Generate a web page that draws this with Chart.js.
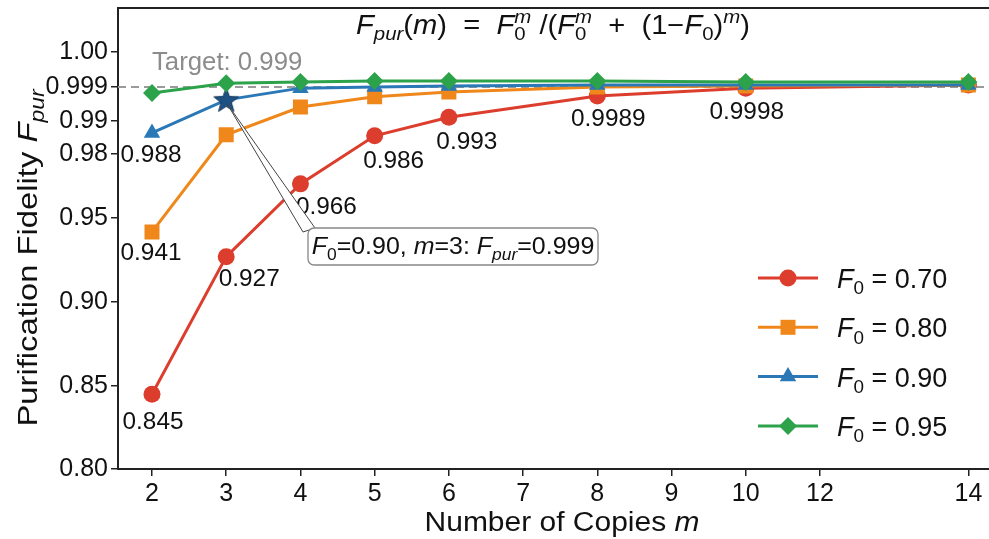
<!DOCTYPE html>
<html>
<head>
<meta charset="utf-8">
<script src="https://cdn.jsdelivr.net/npm/chart.js@4.4.1/dist/chart.umd.min.js"></script>
<style>
  html, body { margin: 0; padding: 0; background: #fff; overflow: hidden; }
  #wrap { position: relative; width: 989px; height: 539px; overflow: hidden; }
</style>
</head>
<body>
<div id="wrap"></div>
<script>
// number of copies m
const copies = [2, 3, 4, 5, 6, 8, 10, 14];

// purification fidelity for each starting fidelity F0
const fid070 = [0.845, 0.927, 0.966, 0.9855, 0.991, 0.9966, 0.9987, 0.99906];
const fid080 = [0.9417, 0.9858, 0.9937, 0.9964, 0.9977, 0.9990, 0.99903, 0.99906];
const fid090 = [0.9864, 0.9956, 0.9987, 0.9990, 0.99903, 0.99906, 0.99906, 0.99906];
const fid095 = [0.9974, 0.99911, 0.99914, 0.99917, 0.99917, 0.99917, 0.99914, 0.99914];
const startFidelity = ['0.70', '0.80', '0.90', '0.95'];

// printed values
const labels070 = ['0.845', '0.927', '0.966', '0.986', '0.993', '0.9989', '0.9998'];
const label080 = '0.941';
const label090 = '0.988';

const target = 0.999;
const xTicks = [2, 3, 4, 5, 6, 7, 8, 9, 10, 12, 14];
const yTicks = [0.80, 0.85, 0.90, 0.95, 0.98, 0.99, 0.999, 1.00];
const yTickLabels = ['0.80', '0.85', '0.90', '0.95', '0.98', '0.99', '0.999', '1.00'];

// the axes are stretched piecewise, like the original figure
const xStops = [0, 1, 2, 3, 4, 5, 6, 7, 8, 9, 11];
const yStops = [0, 83, 167, 251, 315, 348, 382, 417];

function warp(v, vals, stops) {
    let i = 0;
    while (i < vals.length - 2 && v > vals[i + 1]) i++;
    const t = (v - vals[i]) / (vals[i + 1] - vals[i]);
    return stops[i] + t * (stops[i + 1] - stops[i]);
}
const wx = v => warp(v, xTicks, xStops);
const wy = v => warp(v, yTicks, yStops);

// where the plot box sits on the page
const AREA = { left: 118, top: 8, width: 871, height: 461 };

const FONT = "'Liberation Sans', Arial, sans-serif";
const RED = '#dc3d2d', ORANGE = '#f0871a', BLUE = '#2a78b6', GREEN = '#2ca34a';

// filled star for the highlighted point
function makeStar(r, color) {
    const c = document.createElement('canvas');
    c.width = c.height = r * 2 + 4;
    const g = c.getContext('2d');
    const cx = c.width / 2, cy = c.height / 2 + 1;
    g.beginPath();
    for (let k = 0; k < 10; k++) {
        const rr = k % 2 ? r * 0.42 : r;
        const a = -Math.PI / 2 + k * Math.PI / 5;
        g.lineTo(cx + rr * Math.cos(a), cy + rr * Math.sin(a));
    }
    g.closePath();
    g.fillStyle = color;
    g.fill();
    g.strokeStyle = '#163a5e';
    g.lineWidth = 1;
    g.stroke();
    return c;
}
const star = makeStar(13, '#1f5183');

function pts(vals) {
    return copies.map((m, i) => ({ x: wx(m), y: wy(vals[i]) }));
}

// rich text: F with sub/sup parts
function font(size, it) { return (it ? 'italic ' : '') + size + 'px ' + FONT; }
function segW(ctx, s, size) {
    let w = 0;
    if (s.t) { ctx.font = font(size, s.it); w += ctx.measureText(s.t).width; }
    let a = 0, b = 0;
    if (s.sup) { ctx.font = font(size * 0.7, s.supIt); a = ctx.measureText(s.sup).width; }
    if (s.sub) { ctx.font = font(size * 0.7, s.subIt); b = ctx.measureText(s.sub).width; }
    return w + Math.max(a, b);
}
function drawRich(ctx, segs, x, y, size, align, sx) {
    ctx.save();
    ctx.translate(x, y);
    ctx.scale(sx || 1, 1);
    let cx = 0;
    if (align === 'center') cx = -segs.reduce((acc, s) => acc + segW(ctx, s, size), 0) / 2;
    ctx.textAlign = 'left';
    ctx.textBaseline = 'alphabetic';
    segs.forEach(s => {
        if (s.t) {
            ctx.font = font(size, s.it);
            ctx.fillText(s.t, cx, 0);
            cx += ctx.measureText(s.t).width;
        }
        let a = 0, b = 0;
        if (s.sup) {
            ctx.font = font(size * 0.7, s.supIt);
            ctx.fillText(s.sup, cx, -size * 0.42);
            a = ctx.measureText(s.sup).width;
        }
        if (s.sub) {
            ctx.font = font(size * 0.7, s.subIt);
            ctx.fillText(s.sub, cx, size * 0.24);
            b = ctx.measureText(s.sub).width;
        }
        cx += Math.max(a, b);
    });
    ctx.restore();
}

function marker(ctx, style, x, y, color) {
    ctx.fillStyle = color;
    ctx.beginPath();
    if (style === 'circle') {
        ctx.arc(x, y, 8.5, 0, Math.PI * 2);
    } else if (style === 'rect') {
        ctx.rect(x - 7.5, y - 7.5, 15, 15);
    } else if (style === 'triangle') {
        ctx.moveTo(x, y - 9.5);
        ctx.lineTo(x + 8.2, y + 4.75);
        ctx.lineTo(x - 8.2, y + 4.75);
    } else {
        ctx.moveTo(x, y - 9);
        ctx.lineTo(x + 9, y);
        ctx.lineTo(x, y + 9);
        ctx.lineTo(x - 9, y);
    }
    ctx.closePath();
    ctx.fill();
}

const extras = {
    id: 'extras',
    beforeDatasetsDraw(chart) {
        const { ctx, chartArea: a, scales } = chart;
        const ty = scales.y.getPixelForValue(wy(target));
        ctx.save();
        ctx.strokeStyle = '#9a9a9a';
        ctx.lineWidth = 2;
        ctx.setLineDash([8, 5]);
        ctx.beginPath();
        ctx.moveTo(a.left, ty);
        ctx.lineTo(a.right, ty);
        ctx.stroke();
        ctx.setLineDash([]);
        ctx.fillStyle = '#8c8c8c';
        drawRich(ctx, [{ t: 'Target: ' + target }], scales.x.getPixelForValue(wx(copies[0])), ty - 17, 25, 'left', 1.03);
        ctx.restore();
    },
    afterDraw(chart) {
        const { ctx, chartArea: a } = chart;

        // value labels next to points
        const lab = (di, pi, text, dx, dy) => {
            const p = chart.getDatasetMeta(di).data[pi];
            ctx.save();
            ctx.font = font(23, false);
            ctx.textAlign = 'center';
            ctx.textBaseline = 'middle';
            ctx.fillStyle = '#111';
            ctx.translate(p.x + dx, p.y + dy);
            ctx.scale(1.06, 1);
            ctx.fillText(text, 0, 0);
            ctx.restore();
        };
        const offs = [[1, 28], [23, 23], [26, 24], [19, 26], [18, 25], [11, 24], [1, 25]];
        labels070.forEach((t, i) => lab(0, i, t, offs[i][0], offs[i][1]));
        lab(1, 0, label080, -1, 22);
        lab(2, 0, label090, -1, 23);

        // from here on, page coordinates
        ctx.save();
        const ox = a.left - AREA.left, oy = a.top - AREA.top;
        ctx.translate(ox, oy);

        // top frame line
        ctx.strokeStyle = '#222';
        ctx.lineWidth = 2;
        ctx.beginPath();
        ctx.moveTo(AREA.left - 1, AREA.top);
        ctx.lineTo(AREA.left + AREA.width + 20, AREA.top);
        ctx.stroke();

        ctx.fillStyle = '#111';
        // title formula
        drawRich(ctx, [
            { t: 'F', it: true, sub: 'pur', subIt: true },
            { t: '(' }, { t: 'm', it: true }, { t: ')  =  ' },
            { t: 'F', it: true, sup: 'm', supIt: true, sub: '0' },
            { t: ' /(' },
            { t: 'F', it: true, sup: 'm', supIt: true, sub: '0' },
            { t: '  +  (1\u2212' },
            { t: 'F', it: true, sub: '0' },
            { t: ')', sup: 'm', supIt: true },
            { t: ')' }
        ], 553, 34, 27, 'center', 1.08);

        // axis titles
        drawRich(ctx, [{ t: 'Number of Copies ' }, { t: 'm', it: true }], 562, 531, 27, 'center', 1.11);
        ctx.save();
        ctx.translate(37, 258);
        ctx.rotate(-Math.PI / 2);
        drawRich(ctx, [{ t: 'Purification Fidelity ' }, { t: 'F', it: true, sub: 'pur', subIt: true }],
            0, 0, 28, 'center', 1.17);
        ctx.restore();

        // annotation arrow and box
        const sp = chart.getDatasetMeta(2).data[1];
        ctx.beginPath();
        ctx.moveTo(sp.x - ox + 1, sp.y - oy + 4);
        ctx.lineTo(303, 232);
        ctx.lineTo(315, 228);
        ctx.closePath();
        ctx.fillStyle = '#fff';
        ctx.fill();
        ctx.strokeStyle = '#444';
        ctx.lineWidth = 1;
        ctx.stroke();

        ctx.beginPath();
        ctx.roundRect(308, 228, 290, 37, 6);
        ctx.fillStyle = '#fff';
        ctx.fill();
        ctx.strokeStyle = '#888';
        ctx.lineWidth = 1.3;
        ctx.stroke();
        ctx.fillStyle = '#111';
        drawRich(ctx, [
            { t: 'F', it: true, sub: '0' }, { t: '=0.90, ' },
            { t: 'm', it: true }, { t: '=3: ' },
            { t: 'F', it: true, sub: 'pur', subIt: true }, { t: '=0.999' }
        ], 453, 254, 24, 'center', 1.04);

        // legend
        const cols = [RED, ORANGE, BLUE, GREEN];
        const styles = ['circle', 'rect', 'triangle', 'rectRot'];
        startFidelity.forEach((f, i) => {
            const y = 278 + i * 49.3;
            ctx.strokeStyle = cols[i];
            ctx.lineWidth = 3;
            ctx.beginPath();
            ctx.moveTo(758, y);
            ctx.lineTo(818, y);
            ctx.stroke();
            marker(ctx, styles[i], 788, y, cols[i]);
            ctx.fillStyle = '#111';
            drawRich(ctx, [{ t: 'F', it: true, sub: '0' }, { t: ' = ' + f }], 837, y + 10, 27, 'left');
        });
        ctx.restore();
    }
};

function series(label, vals, color, style, radius, order) {
    return {
        label: 'F0 = ' + label,
        data: pts(vals),
        borderColor: color,
        backgroundColor: color,
        borderWidth: 3,
        pointStyle: style,
        pointRadius: radius,
        pointBorderWidth: 0,
        pointBackgroundColor: color,
        tension: 0,
        order: order
    };
}

const blueStyles = copies.map((m, i) => (i === 1 ? star : 'triangle'));

function makeConfig() {
    return {
        type: 'line',
        data: {
            datasets: [
                series(startFidelity[0], fid070, RED, 'circle', 8.5, 4),
                series(startFidelity[1], fid080, ORANGE, 'rect', 10.6, 3),
                series(startFidelity[2], fid090, BLUE, blueStyles, 9.5, 2),
                series(startFidelity[3], fid095, GREEN, 'rectRot', 9, 1)
            ]
        },
        options: {
            responsive: false,
            animation: false,
            layout: { padding: 0 },
            plugins: { legend: { display: false }, tooltip: { enabled: false } },
            scales: {
                x: {
                    type: 'linear',
                    min: -0.458,
                    max: 11.283,
                    afterFit: s => { s.height = 70; },
                    afterBuildTicks: s => { s.ticks = xTicks.map(v => ({ value: wx(v) })); },
                    ticks: {
                        autoSkip: false,
                        maxRotation: 0,
                        padding: 3,
                        color: '#111',
                        font: { family: FONT, size: 25 },
                        callback: (v, i) => String(xTicks[i])
                    },
                    grid: { drawOnChartArea: false, drawTicks: true, tickLength: 7, color: '#222', lineWidth: 1.5 },
                    border: { display: true, color: '#222', width: 2 }
                },
                y: {
                    type: 'linear',
                    min: 0,
                    max: 461,
                    afterFit: s => { s.width = 118; },
                    afterBuildTicks: s => { s.ticks = yTicks.map(v => ({ value: wy(v) })); },
                    ticks: {
                        autoSkip: false,
                        padding: 3,
                        color: '#111',
                        font: { family: FONT, size: 25 },
                        callback: (v, i) => yTickLabels[i]
                    },
                    grid: { drawOnChartArea: false, drawTicks: true, tickLength: 7, color: '#222', lineWidth: 1.5 },
                    border: { display: true, color: '#222', width: 2 }
                }
            }
        },
        plugins: [extras]
    };
}

// build once to learn the label paddings, then size the canvas so the
// plot box lands exactly where it is in the original figure
const wrap = document.getElementById('wrap');
function build(w, h) {
    wrap.innerHTML = '';
    const c = document.createElement('canvas');
    c.width = w;
    c.height = h;
    c.style.position = 'absolute';
    wrap.appendChild(c);
    return new Chart(c, makeConfig());
}
let chart = build(989, 539);
let ca = chart.chartArea;
const w2 = Math.round(989 + AREA.width - (ca.right - ca.left));
const h2 = Math.round(539 + AREA.height - (ca.bottom - ca.top));
chart.destroy();
chart = build(w2, h2);
ca = chart.chartArea;
chart.canvas.style.left = (AREA.left - ca.left) + 'px';
chart.canvas.style.top = (AREA.top - ca.top) + 'px';
</script>
</body>
</html>
